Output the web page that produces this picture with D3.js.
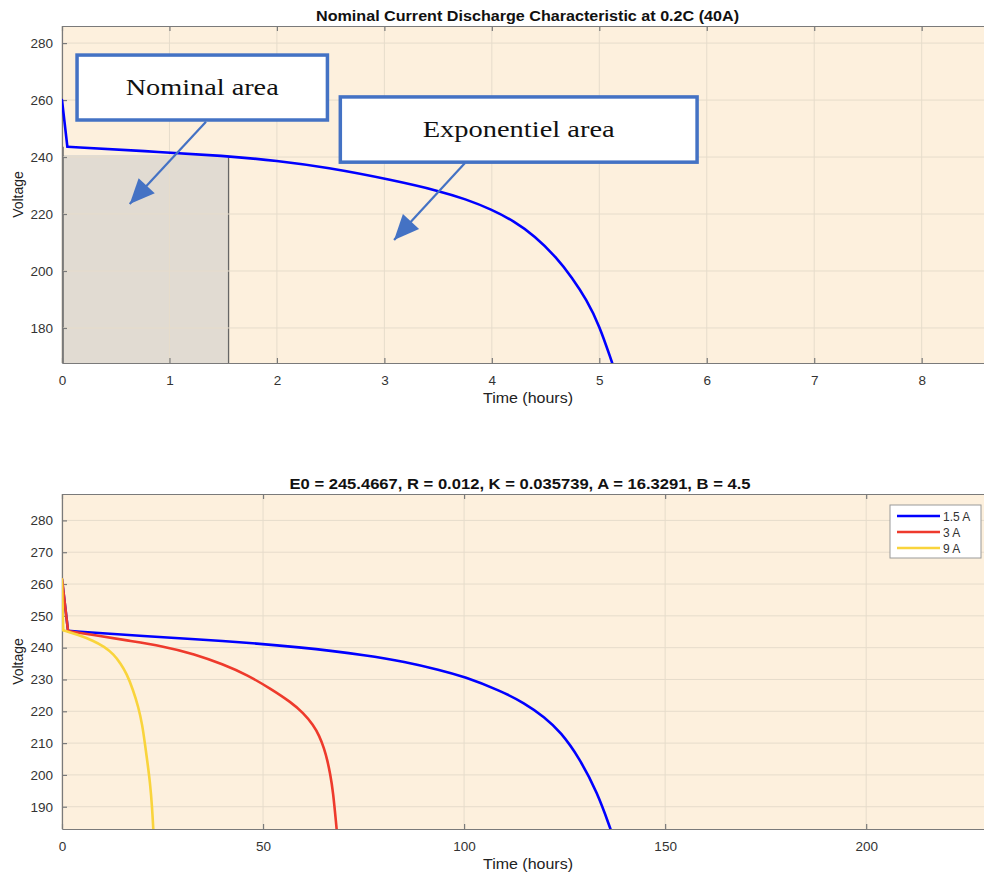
<!DOCTYPE html>
<html lang="en">
<head>
    <meta charset="UTF-8">
    <style>
        html, body { margin:0; padding:0; background:#fff; }
        svg { display:block; font-family:"Liberation Sans", Arial, sans-serif; }
    </style>
    <script src="https://d3js.org/d3.v7.min.js"></script>
</head>
<body>
<svg width="984" height="875"></svg>
<script>
    // top panel: nominal discharge at 0.2C
    var topTime    = [0, 0.05, 0.76, 1.53, 2.0, 2.46, 3.08, 3.52, 3.75, 4.0, 4.2, 4.4, 4.6, 4.75, 4.88, 5.0, 5.12];
    var topVoltage = [260, 243.6, 242.1, 240.4, 238.7, 236.4, 231.9, 228, 225.3, 221.6, 217.6, 212.3, 204.8, 197.5, 190, 181, 167.7];
    var topXTicks = [0, 1, 2, 3, 4, 5, 6, 7, 8];
    var topYTicks = [180, 200, 220, 240, 260, 280];
    var nominalEnd = 1.55, nominalVoltage = 240.7;

    // bottom panel: three discharge currents
    var seriesNames = ["1.5 A", "3 A", "9 A"];
    var blueTime = [0, 1.5, 20, 40, 59.2, 76.6, 85, 94, 100, 109, 115, 120, 124, 128.6, 133.2, 136.4];
    var blueVolt = [261.5, 245.3, 243.6, 242.2, 240.2, 237.5, 235.6, 233, 230.9, 226.5, 222.6, 218.2, 213.5, 205.5, 194.3, 183];
    var redTime  = [0, 1.5, 8, 16, 25, 33, 40, 46, 52, 57, 60, 62.5, 64, 65.2, 66, 66.7, 67.4, 68.3];
    var redVolt  = [261.5, 245.2, 244, 242.3, 240.5, 238, 234.8, 231.5, 227, 222.8, 219.5, 215.7, 212.3, 208.3, 204.6, 200.3, 195, 183];
    var yelTime  = [0, 0.3, 4, 7.8, 10.5, 12.8, 14.6, 16.1, 17.6, 19, 20, 20.6, 21.3, 21.9, 22.4, 22.7];
    var yelVolt  = [261.5, 245.5, 244, 242.2, 240.3, 238, 235, 231.8, 227, 221.4, 215.5, 210, 203.5, 197.5, 190, 183];
    var botXTicks = [0, 50, 100, 150, 200];
    var botYTicks = [190, 200, 210, 220, 230, 240, 250, 260, 270, 280];

    var colors = ["#0000ff", "#ee3a2c", "#f9d43c"];
    var svg = d3.select("svg");

    function zip(t, v) { return t.map(function(d, i) { return {t: d, v: v[i]}; }); }

    function panel(opt) {
        var g = svg.append("g");
        var x = d3.scaleLinear().domain(opt.xDomain).range([62, 984]);
        var y = d3.scaleLinear().domain(opt.yDomain).range([opt.bottom, opt.top]);

        g.append("rect")
            .attr("x", x.range()[0]).attr("y", opt.top)
            .attr("width", x.range()[1] - x.range()[0]).attr("height", opt.bottom - opt.top)
            .attr("fill", "#fdf0dd");

        var clipId = "clip" + opt.top;
        g.append("clipPath").attr("id", clipId).append("rect")
            .attr("x", x.range()[0]).attr("y", opt.top)
            .attr("width", x.range()[1] - x.range()[0]).attr("height", opt.bottom - opt.top);

        if (opt.before) opt.before(g, x, y);

        // grid
        g.selectAll(".gx").data(opt.xTicks).enter().append("line")
            .attr("x1", x).attr("x2", x).attr("y1", opt.top).attr("y2", opt.bottom)
            .attr("stroke", "#e6dccb").attr("stroke-width", 1);
        g.selectAll(".gy").data(opt.yTicks).enter().append("line")
            .attr("x1", x.range()[0]).attr("x2", x.range()[1]).attr("y1", y).attr("y2", y)
            .attr("stroke", "#e6dccb").attr("stroke-width", 1);

        // axes (inward ticks, MATLAB style)
        g.append("g").attr("transform", "translate(0," + opt.bottom + ")")
            .call(d3.axisBottom(x).tickValues(opt.xTicks).tickSizeInner(-5).tickSizeOuter(0).tickPadding(12))
            .call(styleAxis);
        g.append("g").attr("transform", "translate(0," + opt.top + ")")
            .call(d3.axisTop(x).tickValues(opt.xTicks).tickSizeInner(-5).tickSizeOuter(0).tickFormat(""))
            .call(styleAxis);
        g.append("g").attr("transform", "translate(" + x.range()[0] + ",0)")
            .call(d3.axisLeft(y).tickValues(opt.yTicks).tickSizeInner(-5).tickSizeOuter(0).tickPadding(9))
            .call(styleAxis);

        // initial drop drawn straight, the rest smoothed
        var straight = d3.line().x(function(d) { return x(d.t); }).y(function(d) { return y(d.v); });
        var smooth = d3.line().x(function(d) { return x(d.t); }).y(function(d) { return y(d.v); })
            .curve(d3.curveBasis);
        opt.series.forEach(function(s) {
            [[straight, s.data.slice(0, 2)], [smooth, s.data.slice(1)]].forEach(function(p) {
                g.append("path").datum(p[1])
                    .attr("clip-path", "url(#" + clipId + ")")
                    .attr("d", p[0]).attr("fill", "none")
                    .attr("stroke", s.color).attr("stroke-width", 2.6)
                    .attr("stroke-linecap", "round").attr("stroke-linejoin", "round");
            });
        });

        g.append("text").attr("x", opt.titleX).attr("y", opt.top - 5.5)
            .attr("text-anchor", "middle").attr("font-weight", "bold").attr("font-size", 14.5)
            .attr("textLength", opt.titleW).attr("lengthAdjust", "spacingAndGlyphs")
            .attr("fill", "#111").text(opt.title);
        g.append("text").attr("x", 528).attr("y", opt.bottom + 40)
            .attr("text-anchor", "middle").attr("font-size", 14)
            .attr("textLength", 90).attr("lengthAdjust", "spacingAndGlyphs")
            .attr("fill", "#222").text("Time (hours)");
        g.append("text")
            .attr("transform", "translate(23," + ((opt.top + opt.bottom) / 2) + ") rotate(-90)")
            .attr("text-anchor", "middle").attr("font-size", 14).attr("fill", "#222")
            .text("Voltage");

        if (opt.after) opt.after(g, x, y);
    }

    function styleAxis(a) {
        a.select(".domain").attr("stroke", "#7a7a7a").attr("stroke-width", 1.2);
        a.selectAll(".tick line").attr("stroke", "#7a7a7a").attr("stroke-width", 1.2);
        a.selectAll(".tick text").attr("font-size", 13.5).attr("fill", "#333")
            .attr("font-family", "Liberation Sans, Arial, sans-serif");
    }

    function callout(g, x, y, box, arrow, label, textW) {
        var blue = "#4472c4";
        g.append("line")
            .attr("x1", x(arrow.t0)).attr("y1", y(arrow.v0))
            .attr("x2", x(arrow.t1)).attr("y2", y(arrow.v1))
            .attr("stroke", blue).attr("stroke-width", 2.2);
        var ang = Math.atan2(y(arrow.v1) - y(arrow.v0), x(arrow.t1) - x(arrow.t0));
        var tx = x(arrow.t1), ty = y(arrow.v1), L = 25, W = 11;
        var bx = tx - L * Math.cos(ang), by = ty - L * Math.sin(ang);
        g.append("path")
            .attr("d", "M" + tx + "," + ty +
                "L" + (bx + W * Math.sin(ang)) + "," + (by - W * Math.cos(ang)) +
                "L" + (bx - W * Math.sin(ang)) + "," + (by + W * Math.cos(ang)) + "Z")
            .attr("fill", blue);
        g.append("rect")
            .attr("x", x(box.t0)).attr("y", y(box.v0))
            .attr("width", x(box.t1) - x(box.t0)).attr("height", y(box.v1) - y(box.v0))
            .attr("fill", "#fff").attr("stroke", blue).attr("stroke-width", 3.5);
        g.append("text")
            .attr("x", (x(box.t0) + x(box.t1)) / 2).attr("y", (y(box.v0) + y(box.v1)) / 2 + 7)
            .attr("text-anchor", "middle").attr("font-family", "Liberation Serif, Times New Roman, serif")
            .attr("font-size", 22.5).attr("fill", "#111")
            .attr("textLength", textW).attr("lengthAdjust", "spacingAndGlyphs")
            .text(label);
    }

    panel({
        top: 26, bottom: 363,
        xDomain: [0, 8.58], yDomain: [167.7, 286],
        xTicks: topXTicks, yTicks: topYTicks,
        title: "Nominal Current Discharge Characteristic at 0.2C (40A)",
        titleX: 527.5, titleW: 423,
        series: [{data: zip(topTime, topVoltage), color: "#0000ff"}],
        before: function(g, x, y) {
            g.append("rect")
                .attr("x", x(0)).attr("y", y(nominalVoltage))
                .attr("width", x(nominalEnd) - x(0)).attr("height", y(y.domain()[0]) - y(nominalVoltage))
                .attr("fill", "#e1dbd2");
            g.append("line")
                .attr("x1", x(nominalEnd)).attr("x2", x(nominalEnd))
                .attr("y1", y(240)).attr("y2", y(y.domain()[0]))
                .attr("stroke", "#666").attr("stroke-width", 1.3);
            g.append("line")
                .attr("x1", x(0) + 1).attr("x2", x(0) + 1)
                .attr("y1", y(243.6)).attr("y2", y(y.domain()[0]))
                .attr("stroke", "#555").attr("stroke-width", 1.3);
        },
        after: function(g, x, y) {
            callout(g, x, y, {t0: 0.14, t1: 2.47, v0: 275.8, v1: 253},
                {t0: 1.34, v0: 252.4, t1: 0.63, v1: 223.5}, "Nominal area", 153);
            callout(g, x, y, {t0: 2.59, t1: 5.91, v0: 261.1, v1: 238.2},
                {t0: 3.75, v0: 237.9, t1: 3.09, v1: 210.9}, "Exponentiel area", 192);
        }
    });

    panel({
        top: 494, bottom: 829,
        xDomain: [0, 229.3], yDomain: [183, 288.3],
        xTicks: botXTicks, yTicks: botYTicks,
        title: "E0 = 245.4667, R = 0.012, K = 0.035739, A = 16.3291, B = 4.5",
        titleX: 520, titleW: 461,
        series: [
            {data: zip(blueTime, blueVolt), color: colors[0]},
            {data: zip(redTime, redVolt), color: colors[1]},
            {data: zip(yelTime, yelVolt), color: colors[2]}
        ],
        after: function(g) {
            var lg = g.append("g").attr("transform", "translate(890,505)");
            lg.append("rect").attr("width", 91).attr("height", 53)
                .attr("fill", "#fff").attr("stroke", "#9a9a9a").attr("stroke-width", 1);
            seriesNames.forEach(function(n, i) {
                lg.append("line").attr("x1", 7).attr("x2", 50)
                    .attr("y1", 11 + i * 16).attr("y2", 11 + i * 16)
                    .attr("stroke", colors[i]).attr("stroke-width", 2.6);
                lg.append("text").attr("x", 53).attr("y", 15.5 + i * 16)
                    .attr("font-size", 12).attr("fill", "#333").text(n);
            });
        }
    });
</script>
</body>
</html>
